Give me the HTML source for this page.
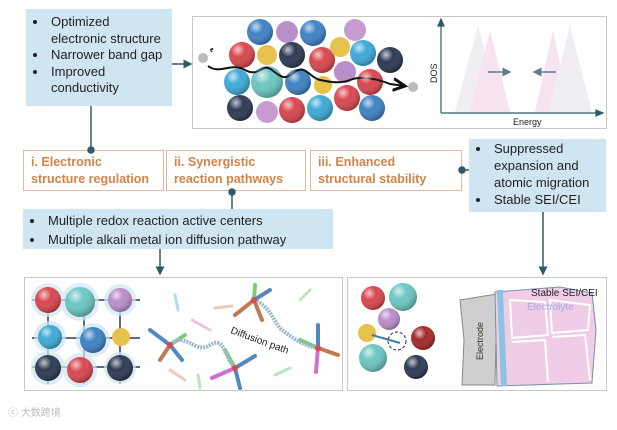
<!DOCTYPE html>
<html><head><meta charset="utf-8"><style>
body{margin:0;width:617px;height:430px;background:#fff;position:relative;overflow:hidden;font-family:"Liberation Sans","Noto Sans CJK SC",sans-serif;}
.b{position:absolute;background:#cfe6f2;color:#222;font-size:13px;line-height:16.5px;}
.b ul{margin:0;padding:0 0 0 22px;}
.b li{padding-left:3px}
.o{position:absolute;border:1px solid #e2b99a;color:#d3834a;font-weight:bold;font-size:12.5px;line-height:17px;padding:3px 0 0 7px;box-sizing:border-box;height:41px;top:150px;white-space:nowrap}
.f{position:absolute;border:1px solid #c8c8c8;box-sizing:border-box;}
svg{position:absolute;left:0;top:0}
</style></head><body>
<div class="b" style="left:26px;top:9px;width:146px;height:97px;padding-top:5px;box-sizing:border-box"><ul><li>Optimized<br>electronic structure</li><li>Narrower band gap</li><li>Improved<br>conductivity</li></ul></div>
<div class="f" style="left:192px;top:16px;width:415px;height:113px"></div>
<div class="o" style="left:23px;width:141px">i. Electronic<br>structure regulation</div>
<div class="o" style="left:166px;width:140px">ii. Synergistic<br>reaction pathways</div>
<div class="o" style="left:310px;width:152px">iii. Enhanced<br>structural stability</div>
<div class="b" style="left:469px;top:139px;width:137px;height:73px;padding-top:1px;box-sizing:border-box;line-height:17px"><ul><li>Suppressed<br>expansion and<br>atomic migration</li><li>Stable SEI/CEI</li></ul></div>
<div class="b" style="left:23px;top:209px;width:310px;height:40px;padding-top:2px;box-sizing:border-box;line-height:19px"><ul><li>Multiple redox reaction active centers</li><li>Multiple alkali metal ion diffusion pathway</li></ul></div>
<div class="f" style="left:24px;top:277px;width:319px;height:114px"></div>
<div class="f" style="left:347px;top:277px;width:260px;height:114px"></div>
<svg width="617" height="430" viewBox="0 0 617 430">
<defs>
<radialGradient id="g" cx="35%" cy="30%" r="70%"><stop offset="0" stop-color="#fff" stop-opacity=".7"/><stop offset=".4" stop-color="#fff" stop-opacity="0"/><stop offset="1" stop-color="#000" stop-opacity=".25"/></radialGradient>
<marker id="a" markerWidth="6" markerHeight="6" refX="5" refY="3" orient="auto"><path d="M0,0 L6,3 L0,6z" fill="#2f5a68"/></marker>
<marker id="k" markerWidth="8" markerHeight="8" refX="6" refY="4" orient="auto"><path d="M0,1 L6,4 L0,7" fill="none" stroke="#111" stroke-width="1.5"/></marker>
<marker id="s" markerWidth="6" markerHeight="6" refX="5" refY="3" orient="auto"><path d="M0,0 L6,3 L0,6z" fill="#5a7e90"/></marker>
</defs>
<g stroke="#2f5a68" stroke-width="1.5" fill="#2f5a68">
<line x1="172" y1="64" x2="191" y2="64" marker-end="url(#a)"/>
<line x1="91" y1="106" x2="91" y2="149"/><circle cx="91" cy="150" r="3"/>
<line x1="232" y1="192" x2="232" y2="209"/><circle cx="232" cy="192" r="3"/>
<line x1="462" y1="170" x2="469" y2="170"/><circle cx="462" cy="170" r="3"/>
<line x1="160" y1="249" x2="160" y2="274" marker-end="url(#a)"/>
<line x1="543" y1="212" x2="543" y2="274" marker-end="url(#a)"/>
</g>
<g>
<circle cx="260" cy="32" r="13" fill="#3f82c4"/><circle cx="287" cy="32" r="11" fill="#b98fc9"/><circle cx="313" cy="33" r="13" fill="#3f82c4"/><circle cx="355" cy="30" r="11" fill="#c79bd0"/>
<circle cx="242" cy="55" r="13" fill="#d9474f"/><circle cx="267" cy="55" r="10" fill="#e6c24c"/><circle cx="292" cy="55" r="13" fill="#2e3b55"/><circle cx="322" cy="60" r="13" fill="#d9474f"/><circle cx="340" cy="47" r="10" fill="#e6c24c"/><circle cx="363" cy="53" r="13" fill="#3fa9d8"/><circle cx="390" cy="60" r="13" fill="#2e3b55"/>
<circle cx="237" cy="82" r="13" fill="#3fa9d8"/><circle cx="267" cy="82" r="16" fill="#6cc6c2"/><circle cx="298" cy="82" r="13" fill="#3f82c4"/><circle cx="323" cy="85" r="9" fill="#e6c24c"/><circle cx="345" cy="72" r="11" fill="#b98fc9"/><circle cx="370" cy="82" r="13" fill="#d9474f"/>
<circle cx="240" cy="108" r="13" fill="#2e3b55"/><circle cx="267" cy="112" r="11" fill="#c79bd0"/><circle cx="292" cy="110" r="13" fill="#d9474f"/><circle cx="320" cy="108" r="13" fill="#3fa9d8"/><circle cx="347" cy="98" r="13" fill="#d9474f"/><circle cx="372" cy="108" r="13" fill="#3f82c4"/>
</g>
<circle cx="203" cy="58" r="5" fill="#bbb"/><circle cx="413" cy="87" r="5" fill="#bbb"/>
<text x="210" y="52" font-size="8" font-weight="bold" font-family="Liberation Serif">e</text>
<path d="M208,66 C220,75 230,62 245,70 S262,62 272,70 S285,80 295,72 S310,78 320,80 S340,84 350,80 S375,78 390,84 L405,86" fill="none" stroke="#111" stroke-width="2" marker-end="url(#k)"/>
<g opacity=".5"><path d="M455,112 L478,25 L500,112z" fill="#e2dfe6"/><path d="M470,112 L490,30 L510,112z" fill="#f1c6e0"/><path d="M535,112 L553,30 L570,112z" fill="#f1c6e0"/><path d="M548,112 L570,25 L592,112z" fill="#e2dfe6"/></g>
<g stroke="#2f5a68" stroke-width="1.2" fill="#2f5a68">
<line x1="441" y1="113" x2="441" y2="24"/><path d="M438,26 L441,19 L444,26z"/>
<line x1="441" y1="113" x2="598" y2="113"/><path d="M596,110 L603,113 L596,116z"/>
</g>
<g stroke="#5a7e90" stroke-width="1.5"><line x1="488" y1="72" x2="510" y2="72" marker-end="url(#s)"/><line x1="556" y1="72" x2="534" y2="72" marker-end="url(#s)"/></g>
<text x="513" y="125" font-size="9" fill="#222">Energy</text>
<text x="0" y="0" font-size="9" fill="#222" transform="translate(437,83) rotate(-90)">DOS</text>
<g stroke="#2e3b55" stroke-width="1.5"><line x1="32" y1="300" x2="140" y2="300"/><line x1="32" y1="338" x2="140" y2="338"/><line x1="32" y1="367" x2="140" y2="367"/><line x1="48" y1="288" x2="48" y2="384"/><line x1="84" y1="288" x2="84" y2="384"/><line x1="120" y1="288" x2="120" y2="384"/></g>
<g fill="#cfe6f2" opacity=".7"><circle cx="48" cy="300" r="17"/><circle cx="80" cy="302" r="19"/><circle cx="120" cy="300" r="16"/><circle cx="50" cy="337" r="16"/><circle cx="93" cy="340" r="17"/><circle cx="48" cy="368" r="17"/><circle cx="80" cy="370" r="17"/><circle cx="120" cy="368" r="16"/></g>
<circle cx="48" cy="300" r="13" fill="#d9474f"/><circle cx="80" cy="302" r="15" fill="#6cc6c2"/><circle cx="120" cy="300" r="12" fill="#b98fc9"/>
<circle cx="50" cy="337" r="12" fill="#3fa9d8"/><circle cx="93" cy="340" r="13" fill="#3f82c4"/><circle cx="121" cy="337" r="9" fill="#e6c24c"/>
<circle cx="48" cy="368" r="13" fill="#2e3b55"/><circle cx="80" cy="370" r="13" fill="#d9474f"/><circle cx="120" cy="368" r="13" fill="#2e3b55"/>
<g stroke-width="4" stroke-linecap="round" opacity=".8">
<line x1="150" y1="330" x2="170" y2="345" stroke="#2a6bb0"/><line x1="170" y1="345" x2="160" y2="360" stroke="#b05a2a"/><line x1="170" y1="345" x2="185" y2="335" stroke="#5cbf5c"/><line x1="170" y1="345" x2="182" y2="360" stroke="#2a6bb0"/>
<line x1="255" y1="285" x2="254" y2="300" stroke="#5cbf5c"/><line x1="254" y1="300" x2="235" y2="315" stroke="#b05a2a"/><line x1="254" y1="300" x2="270" y2="290" stroke="#2a6bb0"/><line x1="254" y1="300" x2="262" y2="320" stroke="#b05a2a"/>
<line x1="235" y1="368" x2="225" y2="350" stroke="#5cbf5c"/><line x1="235" y1="368" x2="212" y2="378" stroke="#c050c0"/><line x1="235" y1="368" x2="255" y2="356" stroke="#2a6bb0"/><line x1="235" y1="368" x2="240" y2="388" stroke="#2a6bb0"/>
<line x1="318" y1="348" x2="318" y2="325" stroke="#2a6bb0"/><line x1="318" y1="348" x2="300" y2="340" stroke="#5cbf5c"/><line x1="318" y1="348" x2="338" y2="355" stroke="#b05a2a"/><line x1="318" y1="348" x2="316" y2="372" stroke="#c050c0"/>
</g>
<g stroke-width="3" stroke-linecap="round" opacity=".4"><line x1="175" y1="295" x2="178" y2="310" stroke="#3fa9d8"/><line x1="192" y1="320" x2="210" y2="330" stroke="#d070a0"/><line x1="215" y1="308" x2="232" y2="306" stroke="#d08050"/><line x1="300" y1="300" x2="310" y2="290" stroke="#5cbf5c"/><line x1="170" y1="370" x2="185" y2="380" stroke="#d08050"/><line x1="275" y1="375" x2="290" y2="368" stroke="#5cbf5c"/><line x1="198" y1="375" x2="200" y2="388" stroke="#5cbf5c"/></g>
<path d="M170,345 C185,330 195,355 210,345 S225,360 235,368 M254,300 C270,305 275,325 282,330 S300,345 318,348" fill="none" stroke="#9bb8c8" stroke-width="4" stroke-dasharray="2 1"/>
<g fill="#d9474f"><circle cx="170" cy="345" r="3"/><circle cx="254" cy="300" r="3"/><circle cx="235" cy="368" r="3"/><circle cx="318" cy="348" r="3"/></g>
<text x="0" y="0" font-size="10" fill="#222" transform="translate(230,333) rotate(20)">Diffusion path</text>
<circle cx="373" cy="298" r="12" fill="#d9474f"/><circle cx="403" cy="297" r="14" fill="#6cc6c2"/><circle cx="389" cy="319" r="11" fill="#b98fc9"/><circle cx="367" cy="333" r="9" fill="#e6c24c"/><circle cx="423" cy="338" r="12" fill="#a52a2a"/><circle cx="373" cy="358" r="14" fill="#6cc6c2"/><circle cx="416" cy="367" r="12" fill="#2e3b55"/>
<circle cx="397" cy="341" r="9" fill="none" stroke="#222" stroke-dasharray="3 2"/>
<line x1="372" y1="335" x2="400" y2="343" stroke="#3a7ab0" stroke-width="2"/>
<path d="M460,300 L497,294 L495,385 L462,385 L464,340z" fill="#cfcfcf" stroke="#888"/>
<text x="0" y="0" font-size="9" fill="#333" transform="translate(483,360) rotate(-90)">Electrode</text>
<path d="M495,292 L560,287 L592,293 L596,330 L592,383 L497,386z" fill="#f0cde6" stroke="#7a8fa8"/>
<path d="M500,290 L504,386" stroke="#8cc3e4" stroke-width="6"/>
<g fill="none" stroke="#fff" stroke-width="2"><path d="M510,300 L545,302 L548,335 L512,338z M550,300 L590,305 L588,330 L552,333z M512,342 L545,340 L548,382 M552,337 L585,335 L590,380"/></g>
<text x="531" y="296" font-size="10" fill="#222">Stable SEI/CEI</text>
<text x="527" y="310" font-size="10" fill="#9ab0e0">Electrolyte</text>
<text x="8" y="416" font-size="10" fill="#bbb">ⓒ 大数跨境</text>
<g fill="url(#g)">
<circle cx="260" cy="32" r="13"/><circle cx="313" cy="33" r="13"/><circle cx="242" cy="55" r="13"/><circle cx="292" cy="55" r="13"/><circle cx="322" cy="60" r="13"/><circle cx="363" cy="53" r="13"/><circle cx="390" cy="60" r="13"/><circle cx="237" cy="82" r="13"/><circle cx="267" cy="82" r="16"/><circle cx="298" cy="82" r="13"/><circle cx="370" cy="82" r="13"/><circle cx="240" cy="108" r="13"/><circle cx="292" cy="110" r="13"/><circle cx="320" cy="108" r="13"/><circle cx="347" cy="98" r="13"/><circle cx="372" cy="108" r="13"/>
<circle cx="48" cy="300" r="13"/><circle cx="80" cy="302" r="15"/><circle cx="120" cy="300" r="12"/><circle cx="50" cy="337" r="12"/><circle cx="93" cy="340" r="13"/><circle cx="48" cy="368" r="13"/><circle cx="80" cy="370" r="13"/><circle cx="120" cy="368" r="13"/>
<circle cx="373" cy="298" r="12"/><circle cx="403" cy="297" r="14"/><circle cx="389" cy="319" r="11"/><circle cx="423" cy="338" r="12"/><circle cx="373" cy="358" r="14"/><circle cx="416" cy="367" r="12"/>
</g>
</svg>
</body></html>
